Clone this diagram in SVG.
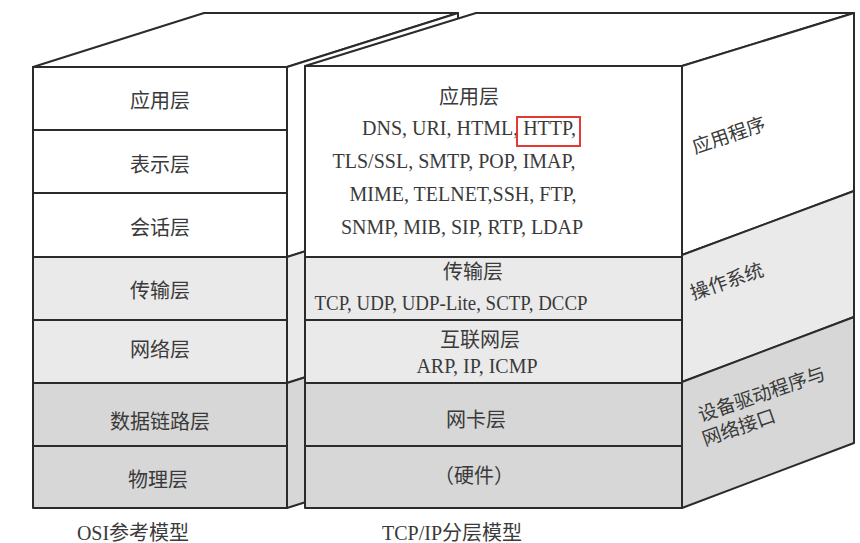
<svg xmlns="http://www.w3.org/2000/svg" width="860" height="543" viewBox="0 0 860 543">
<style>
.ln{stroke:#2b2b2b;stroke-width:2;stroke-linejoin:miter;fill:none}
.w{fill:#ffffff}
.g1{fill:#eaeaea}
.g2{fill:#d7d7d7}
.e{stroke:#2b2b2b;stroke-width:2;stroke-linejoin:round}
text{font-family:"Liberation Serif","Noto Sans CJK SC",serif;font-size:20px;fill:#3a3a3a;text-anchor:middle}
.side{font-size:19px;text-anchor:start}
</style>
<rect width="860" height="543" fill="#ffffff"/>

<g id="osi-box">
  <polygon class="w e" points="33,67 204,13 458,13 287,67"/>
  <polygon class="w e" points="287,67 458,13 458,203 287,257"/>
  <polygon class="g1 e" points="287,257 458,203 458,329 287,383"/>
  <polygon class="g2 e" points="287,383 458,329 458,454 287,508"/>
</g>

<g id="osi-application"><rect class="w e" x="33" y="67" width="254" height="63"/><text x="160" y="108">应用层</text></g>
<g id="osi-presentation"><rect class="w e" x="33" y="130" width="254" height="63"/><text x="160" y="172">表示层</text></g>
<g id="osi-session"><rect class="w e" x="33" y="193" width="254" height="64"/><text x="160" y="235">会话层</text></g>
<g id="osi-transport"><rect class="g1 e" x="33" y="257" width="254" height="63"/><text x="160" y="298">传输层</text></g>
<g id="osi-network"><rect class="g1 e" x="33" y="320" width="254" height="63"/><text x="160" y="357">网络层</text></g>
<g id="osi-datalink"><rect class="g2 e" x="33" y="383" width="254" height="63"/><text x="160" y="429">数据链路层</text></g>
<g id="osi-physical"><rect class="g2 e" x="33" y="446" width="254" height="62"/><text x="158" y="487">物理层</text></g>

<g id="tcpip-box">
  <polygon class="w e" points="305,66 476,13 854,13 682,66"/>
  <polygon class="w e" points="682,66 854,13 854,191 682,255"/>
  <polygon class="g1 e" points="682,255 854,191 854,317 682,382"/>
  <polygon class="g2 e" points="682,382 854,317 854,443 682,508"/>
</g>

<g id="tcpip-application">
  <rect class="w e" x="305" y="66" width="377" height="191"/>
  <text x="469" y="104">应用层</text>
  <text x="469" y="135">DNS, URI, HTML, HTTP,</text>
  <text x="454" y="168">TLS/SSL, SMTP, POP, IMAP,</text>
  <text x="463" y="201">MIME, TELNET,SSH, FTP,</text>
  <text x="462" y="234">SNMP, MIB, SIP, RTP, LDAP</text>
  <rect x="517" y="117" width="63" height="29" fill="none" stroke="#e53935" stroke-width="2"/>
</g>
<g id="tcpip-transport">
  <rect class="g1 e" x="305" y="257" width="377" height="63"/>
  <text x="473" y="279">传输层</text>
  <text x="451" y="310" textLength="273" lengthAdjust="spacingAndGlyphs">TCP, UDP, UDP-Lite, SCTP, DCCP</text>
</g>
<g id="tcpip-internet">
  <rect class="g1 e" x="305" y="320" width="377" height="63"/>
  <text x="480" y="347">互联网层</text>
  <text x="477" y="373">ARP, IP, ICMP</text>
</g>
<g id="tcpip-link">
  <rect class="g2 e" x="305" y="383" width="377" height="63"/>
  <text x="476" y="427">网卡层</text>
</g>
<g id="tcpip-hardware">
  <rect class="g2 e" x="305" y="446" width="377" height="62"/>
  <text x="474" y="483">（硬件）</text>
</g>

<g id="side-labels">
  <text class="side" transform="translate(695,154) rotate(-19)">应用程序</text>
  <text class="side" transform="translate(693,300) rotate(-19)">操作系统</text>
  <text class="side" transform="translate(701,422) rotate(-19)">设备驱动程序与</text>
  <text class="side" transform="translate(705,446) rotate(-19)">网络接口</text>
</g>

<g id="captions">
  <text x="133" y="540">OSI参考模型</text>
  <text x="452" y="540">TCP/IP分层模型</text>
</g>
<g id="connectors"></g>
</svg>
